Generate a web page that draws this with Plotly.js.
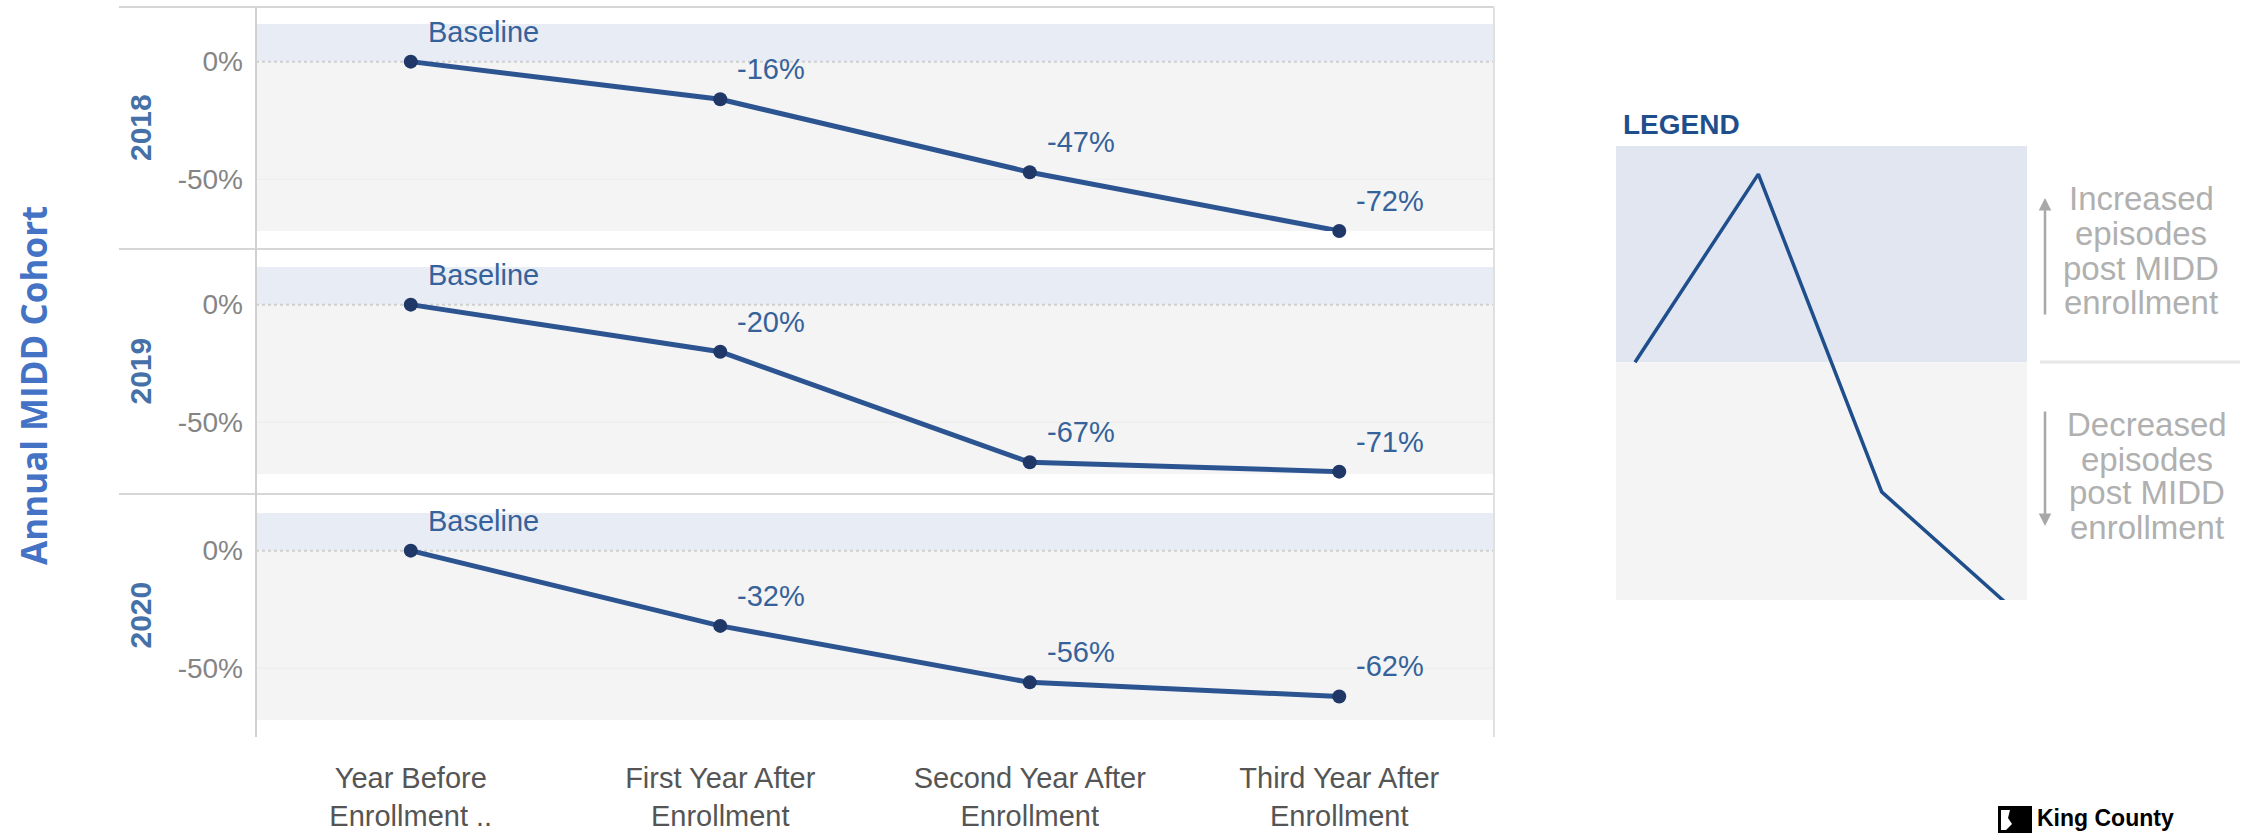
<!DOCTYPE html>
<html>
<head>
<meta charset="utf-8">
<script src="https://cdn.plot.ly/plotly-3.0.1.min.js"></script>
<style>html,body{margin:0;padding:0;background:#fff;}#chart{width:2262px;height:835px;}</style>
</head>
<body>
<div id="chart"></div>
<script>
// ---------------- DATA ----------------
const categories = ["Year Before Enrollment ..", "First Year After Enrollment", "Second Year After Enrollment", "Third Year After Enrollment"];
const tickLabels = ["Year Before<br>Enrollment ..", "First Year After<br>Enrollment", "Second Year After<br>Enrollment", "Third Year After<br>Enrollment"];
const cohorts = ["2018", "2019", "2020"];
const change2018 = [0, -16, -47, -72];
const change2019 = [0, -20, -67, -71];
const change2020 = [0, -32, -56, -62];
const yTickValues = [0, -50];
const legendSteps = [0, 1, 2, 3];
const legendExample = [0, 87, -60, -111];
const legendUpText = ["Increased", "episodes", "post MIDD", "enrollment"];
const legendDownText = ["Decreased", "episodes", "post MIDD", "enrollment"];

// ---------------- LAYOUT HELPERS ----------------
const W = 2262, H = 835;
const px = x => x / W;
const py = y => 1 - y / H;
const series = [change2018, change2019, change2020];
const yNames = ["y", "y2", "y3"];
const panelTop = [24, 267, 513];
const panelH = 207;
const sepY = [7, 249, 494];
const frameBottom = 737;
const plotL = 256, plotR = 1494, sepL = 119;
const yRange = [-72, 16];

const FONT = "Liberation Sans, Arial, sans-serif";
const lineColor = "#2b5491";
const markerColor = "#1f3868";
const labelColor = "#35629a";

const traces = [];
const shapes = [];
const annotations = [];
const layout = {
  width: W, height: H,
  margin: {l: 0, r: 0, t: 0, b: 0},
  paper_bgcolor: "#ffffff",
  plot_bgcolor: "rgba(0,0,0,0)",
  showlegend: false,
  font: {family: FONT},
  xaxis: {
    type: "category",
    categoryorder: "array",
    categoryarray: categories,
    range: [-0.5, 3.5],
    domain: [px(plotL), px(plotR)],
    anchor: "free",
    position: py(frameBottom),
    showline: false, showgrid: false, zeroline: false,
    ticks: "",
    tickvals: categories,
    ticktext: tickLabels,
    tickfont: {family: FONT, size: 29, color: "#555555"},
    ticklabelstandoff: 21,
    automargin: false,
    fixedrange: true
  },
  xaxis2: {
    domain: [px(1616), px(2027)],
    range: [-0.154, 3.178],
    anchor: "y4",
    visible: false,
    fixedrange: true
  },
  yaxis4: {
    domain: [py(600), py(146)],
    range: [-110, 100],
    anchor: "x2",
    visible: false,
    fixedrange: true
  }
};

series.forEach((vals, i) => {
  const yn = yNames[i];
  const axKey = i === 0 ? "yaxis" : "yaxis" + (i + 1);
  layout[axKey] = {
    domain: [py(panelTop[i] + panelH), py(panelTop[i])],
    range: yRange,
    anchor: "x",
    tickvals: yTickValues,
    ticktext: yTickValues.map(v => v + "%"),
    tickfont: {family: FONT, size: 28, color: "#858585"},
    ticks: "",
    ticklabelstandoff: 12,
    showgrid: false, zeroline: false, showline: false,
    automargin: false,
    fixedrange: true
  };
  // bands
  shapes.push({type: "rect", xref: "x domain", yref: yn, x0: 0, x1: 1, y0: 0, y1: yRange[1],
    fillcolor: "#e8ecf4", line: {width: 0}, layer: "below"});
  shapes.push({type: "rect", xref: "x domain", yref: yn, x0: 0, x1: 1, y0: yRange[0], y1: 0,
    fillcolor: "#f4f4f4", line: {width: 0}, layer: "below"});
  // grid lines
  yTickValues.forEach(v => {
    shapes.push({type: "line", xref: "x domain", yref: yn, x0: 0, x1: 1, y0: v, y1: v,
      line: v === 0 ? {color: "#cfcfcf", width: 2, dash: "dot"} : {color: "#ececec", width: 1},
      layer: "below"});
  });
  traces.push({
    type: "scatter", mode: "lines+markers",
    x: categories, y: vals,
    xaxis: "x", yaxis: yn,
    line: {color: lineColor, width: 5},
    marker: {color: markerColor, size: 14},
    cliponaxis: false,
    hoverinfo: "skip"
  });
  vals.forEach((v, j) => {
    annotations.push({
      x: categories[j], y: v, xref: "x", yref: yn,
      text: j === 0 ? "Baseline" : v + "%",
      showarrow: false, xanchor: "left", yanchor: "middle",
      xshift: 15, yshift: 30,
      font: {family: FONT, size: 29, color: labelColor}
    });
  });
  // cohort row label
  const sepBottom = i < 2 ? sepY[i + 1] : frameBottom;
  annotations.push({
    x: px(140), y: py((sepY[i] + sepBottom) / 2), xref: "paper", yref: "paper",
    text: "<b>" + cohorts[i] + "</b>", textangle: -90, showarrow: false,
    xanchor: "center", yanchor: "middle",
    font: {family: FONT, size: 30, color: "#4570a8"}
  });
});

// frame lines
sepY.forEach(y => {
  shapes.push({type: "line", xref: "paper", yref: "paper", x0: px(sepL), x1: px(plotR), y0: py(y), y1: py(y),
    line: {color: "#d6d6d6", width: 2}});
});
shapes.push({type: "line", xref: "paper", yref: "paper", x0: px(plotL), x1: px(plotL), y0: py(sepY[0]), y1: py(frameBottom),
  line: {color: "#d0d0d0", width: 2}});
shapes.push({type: "line", xref: "paper", yref: "paper", x0: px(plotR), x1: px(plotR), y0: py(sepY[0]), y1: py(frameBottom),
  line: {color: "#e0e0e0", width: 2}});

// main vertical title
annotations.push({
  x: px(33), y: py(386), xref: "paper", yref: "paper",
  text: "<b>Annual MIDD Cohort</b>", textangle: -90, showarrow: false,
  xanchor: "center", yanchor: "middle",
  font: {family: "Open Sans, sans-serif", size: 35, color: "#4472c4"}
});

// ---------------- LEGEND PANEL ----------------
shapes.push({type: "rect", xref: "x2 domain", yref: "y4", x0: 0, x1: 1, y0: 0, y1: 100,
  fillcolor: "#e1e6f0", line: {width: 0}, layer: "below"});
shapes.push({type: "rect", xref: "x2 domain", yref: "y4", x0: 0, x1: 1, y0: -110, y1: 0,
  fillcolor: "#f4f4f4", line: {width: 0}, layer: "below"});
shapes.push({type: "line", xref: "paper", yref: "paper", x0: px(2040), x1: px(2240), y0: py(362), y1: py(362),
  line: {color: "#e6e6e6", width: 3}});
traces.push({
  type: "scatter", mode: "lines",
  x: legendSteps, y: legendExample,
  xaxis: "x2", yaxis: "y4",
  line: {color: "#1f4e8c", width: 3.5},
  cliponaxis: false, hoverinfo: "skip"
});
annotations.push({
  x: px(1621), y: py(125), xref: "paper", yref: "paper",
  text: "<b>LEGEND</b>", showarrow: false, xanchor: "left", yanchor: "middle",
  font: {family: FONT, size: 28, color: "#1f4e8c"}
});
const upLineY = [198, 233, 268, 302];
const downLineY = [424, 459, 493, 527];
legendUpText.forEach((t, k) => {
  annotations.push({x: px(2141), y: py(upLineY[k]), xref: "paper", yref: "paper", text: t,
    showarrow: false, xanchor: "center", yanchor: "middle",
    font: {family: FONT, size: 33, color: "#b0b0b0"}});
});
legendDownText.forEach((t, k) => {
  annotations.push({x: px(2147), y: py(downLineY[k]), xref: "paper", yref: "paper", text: t,
    showarrow: false, xanchor: "center", yanchor: "middle",
    font: {family: FONT, size: 33, color: "#b0b0b0"}});
});
// arrows
annotations.push({x: px(2045), y: py(198), xref: "paper", yref: "paper", text: "",
  showarrow: true, ax: 0, ay: 118, arrowhead: 2, arrowsize: 1, arrowwidth: 2.5, arrowcolor: "#a8a8a8"});
annotations.push({x: px(2045), y: py(526), xref: "paper", yref: "paper", text: "",
  showarrow: true, ax: 0, ay: -116, arrowhead: 2, arrowsize: 1, arrowwidth: 2.5, arrowcolor: "#a8a8a8"});

// ---------------- KING COUNTY MARK ----------------
shapes.push({type: "rect", xref: "paper", yref: "paper", x0: px(1998), x1: px(2032), y0: py(833), y1: py(806),
  fillcolor: "#000000", line: {width: 0}});
shapes.push({type: "path", xref: "paper", yref: "paper",
  path: "M " + px(2001) + "," + py(810) + " L " + px(2010) + "," + py(810) + " L " + px(2008) + "," + py(818) +
        " L " + px(2012) + "," + py(824) + " L " + px(2006) + "," + py(830) + " L " + px(2001) + "," + py(830) + " Z",
  fillcolor: "#ffffff", line: {width: 0}});
annotations.push({
  x: px(2035), y: py(818), xref: "paper", yref: "paper",
  text: "<b>King County</b>", showarrow: false, xanchor: "left", yanchor: "middle",
  font: {family: FONT, size: 23, color: "#000000"}
});

layout.shapes = shapes;
layout.annotations = annotations;

Plotly.newPlot("chart", traces, layout, {displayModeBar: false, staticPlot: true});
</script>
</body>
</html>
